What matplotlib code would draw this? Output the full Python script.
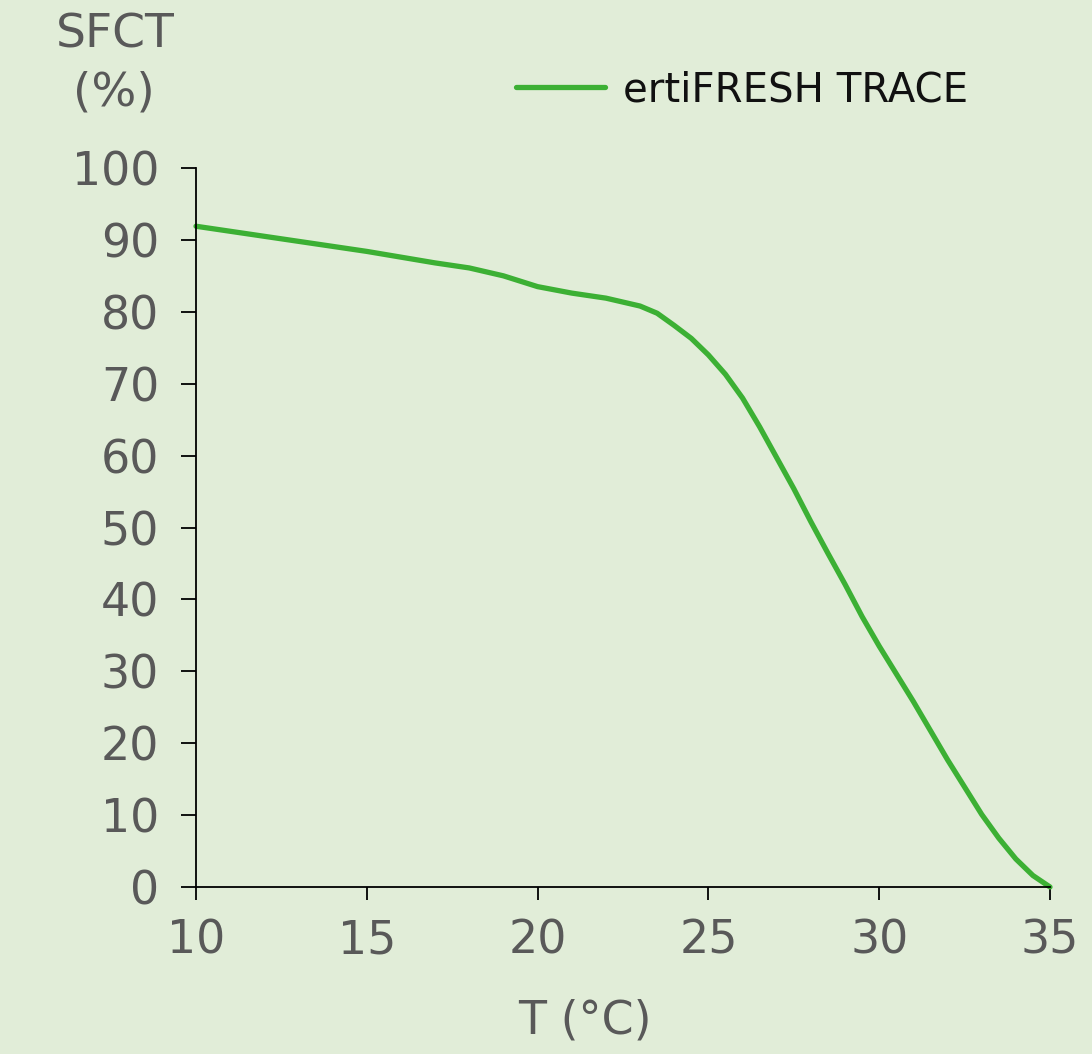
import matplotlib
matplotlib.use("Agg")
import matplotlib.pyplot as plt

plt.rcParams['font.family'] = ['DejaVu Sans']

temperature = [10, 11, 12, 13, 14, 15, 16, 17, 18, 19, 20, 21, 22, 23, 23.5, 24, 24.5, 25, 25.5,
               26, 26.5, 27, 27.5, 28, 28.5, 29, 29.5, 30, 31, 32, 33, 33.5, 34, 34.5, 35]
sfct = [91.9, 91.2, 90.5, 89.8, 89.1, 88.4, 87.6, 86.8, 86.1, 85.0, 83.5, 82.6, 81.9, 80.8, 79.8,
        78.1, 76.3, 74.0, 71.3, 68.0, 64.0, 59.7, 55.4, 50.8, 46.4, 42.1, 37.6, 33.5, 25.8,
        17.7, 10.1, 6.8, 3.9, 1.6, 0.0]
series_name = "ertiFRESH TRACE"
x_ticks = [10, 15, 20, 25, 30, 35]
y_ticks = [0, 10, 20, 30, 40, 50, 60, 70, 80, 90, 100]

bg = '#e1edd8'
green = '#3cb034'
gray = '#595959'

fig = plt.figure(figsize=(10.92, 10.54), dpi=100, facecolor=bg)
ax = fig.add_axes([196/1092, 1 - 887/1054, (1050-196)/1092, (887-168)/1054])
ax.set_facecolor(bg)

ax.plot(temperature, sfct, color=green, lw=3.8, solid_capstyle='round', solid_joinstyle='round',
        clip_on=False, label=series_name)

ax.set_xlim(10, 35)
ax.set_ylim(0, 100)
ax.set_xticks(x_ticks)
ax.set_yticks(y_ticks)
for s in ['top', 'right']:
    ax.spines[s].set_visible(False)
for s in ['left', 'bottom']:
    ax.spines[s].set_color('black')
    ax.spines[s].set_linewidth(1.3)
ax.tick_params(axis='y', direction='out', length=10.5, width=1.3, pad=16, labelsize=33, labelcolor=gray)
ax.tick_params(axis='x', direction='out', length=9.5, width=1.3, pad=13, labelsize=33, labelcolor=gray)

ax.set_xlabel("T (°C)", fontsize=33, color=gray)
ax.xaxis.set_label_coords((585-196)/854, (887-1021)/719, transform=ax.transAxes)
ax.xaxis.label.set_va('center')

fig.text(115/1092, 1 - 35/1054, "SFCT", fontsize=34, color=gray, ha='center', va='center')
fig.text(114/1092, 1 - 93/1054, "(%)", fontsize=34, color=gray, ha='center', va='center')

leg = ax.legend(loc='center left', bbox_to_anchor=(516/1092, 1 - 90/1054), bbox_transform=fig.transFigure,
                frameon=False, fontsize=29, handlelength=2.2, handletextpad=0.45, borderpad=0, borderaxespad=0)
for t in leg.get_texts():
    t.set_color('#111111')

fig.savefig("out.png", dpi=100, facecolor=bg)
